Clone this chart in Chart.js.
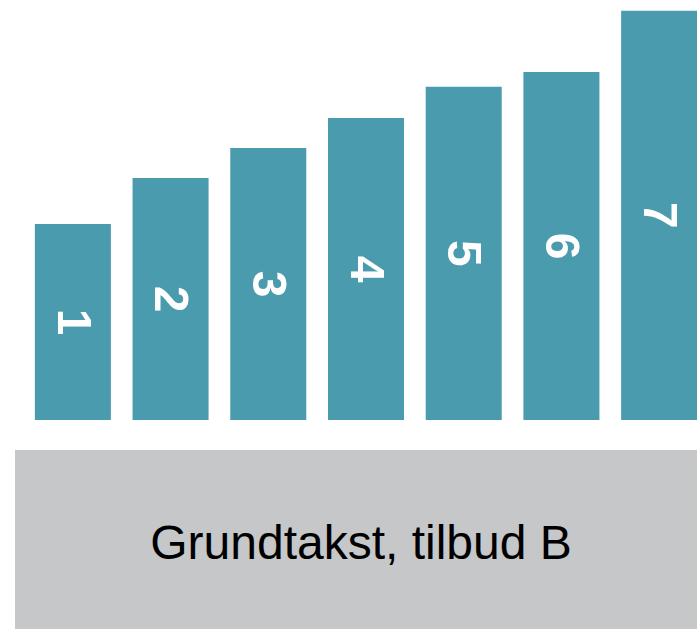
<!DOCTYPE html>
<html lang="da">
<head>
    <meta charset="UTF-8">
    <title>Grundtakst, tilbud B</title>
    <script src="https://cdn.jsdelivr.net/npm/chart.js"></script>
    <style>
        html, body {
            margin: 0;
            padding: 0;
            background: #ffffff;
            overflow: hidden;
        }
        .page {
            position: relative;
            width: 697px;
            height: 629px;
            overflow: hidden;
        }
        .chart-container {
            position: absolute;
            left: 0;
            top: 0;
            width: 711px;
            height: 420px;
        }
        .base-box {
            position: absolute;
            left: 15px;
            top: 450px;
            width: 682px;
            height: 179px;
            background: #c6c7c9;
            display: flex;
            align-items: center;
            justify-content: center;
            font-family: "Liberation Sans", Arial, sans-serif;
            font-size: 48px;
            color: #000000;
        }
        .base-box span {
            padding-left: 10px;
            padding-top: 6px;
        }
    </style>
</head>
<body>
    <div class="page">
        <div class="chart-container">
            <canvas id="stepChart"></canvas>
        </div>
        <div class="base-box"><span id="baseLabel"></span></div>
    </div>

    <script>
        const categories = ['1', '2', '3', '4', '5', '6', '7'];
        const values = [49, 60.5, 68, 75.5, 83.3, 87, 102.3];
        const baseLabel = 'Grundtakst, tilbud B';

        document.getElementById('baseLabel').textContent = baseLabel;

        // white rotated number in the middle of each bar
        const barLabels = {
            id: 'barLabels',
            afterDatasetsDraw(chart) {
                const ctx = chart.ctx;
                const meta = chart.getDatasetMeta(0);
                ctx.save();
                ctx.fillStyle = '#ffffff';
                ctx.font = 'bold 48px "Liberation Sans", Arial, sans-serif';
                ctx.textAlign = 'center';
                ctx.textBaseline = 'middle';
                meta.data.forEach((bar, i) => {
                    const cy = (bar.y + bar.base) / 2;
                    ctx.save();
                    ctx.translate(bar.x, cy);
                    ctx.rotate(Math.PI / 2);
                    ctx.fillText(categories[i], 0, 2);
                    ctx.restore();
                });
                ctx.restore();
            }
        };

        new Chart(document.getElementById('stepChart'), {
            type: 'bar',
            data: {
                labels: categories,
                datasets: [{
                    data: values,
                    backgroundColor: '#4b9baf',
                    borderWidth: 0,
                    barPercentage: 0.778,
                    categoryPercentage: 1
                }]
            },
            options: {
                responsive: true,
                maintainAspectRatio: false,
                animation: false,
                layout: {
                    padding: { left: 24, right: 3, top: 0, bottom: 0 }
                },
                plugins: {
                    legend: { display: false },
                    tooltip: { enabled: false }
                },
                scales: {
                    x: { display: false },
                    y: { display: false, min: 0, max: 105 }
                }
            },
            plugins: [barLabels]
        });
    </script>
</body>
</html>
